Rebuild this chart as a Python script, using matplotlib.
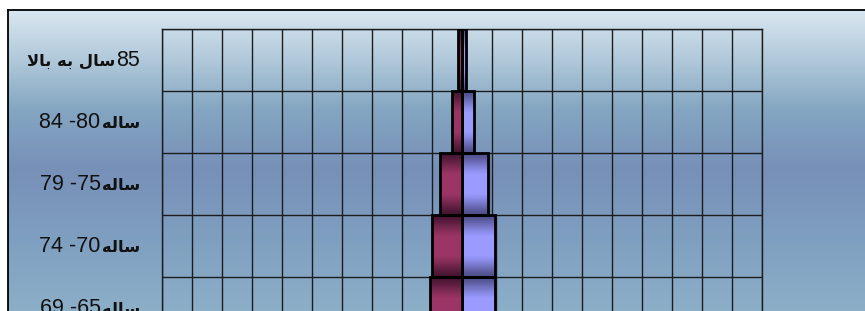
import matplotlib
matplotlib.use('Agg')
import matplotlib.pyplot as plt
import matplotlib.transforms as mtransforms
import numpy as np
from matplotlib.colors import to_rgb

# age groups, top to bottom (only the top of the pyramid is in view)
# arabic parts are stored as presentation forms in visual order, matplotlib does no shaping
SAL = '\ufeea\ufedf\ufe8e\ufeb3'   # ساله
age_num = ['85', '84 -80', '79 -75', '74 -70', '69 -65']
age_word = ['\ufefb\ufe8e\ufe91 \ufeea\ufe91 \ufedd\ufe8e\ufeb3', SAL, SAL, SAL, SAL]  # سال به بالا
num_right = [True, False, False, False, False]   # where the number sits relative to the word

# share of population (%)
left_vals = [0.12, 0.35, 0.72, 1.00, 1.07]
right_vals = [0.12, 0.40, 0.88, 1.11, 1.11]

W, H = 865, 311
fig = plt.figure(figsize=(W / 100, H / 100), dpi=100)
fig.patch.set_facecolor('white')

# chart area background (gradient), runs off the right and bottom edge
bg = fig.add_axes([8 / W, -0.2, 1.0, (H - 10) / H + 0.2])
bg_top, bg_bot = 10, H + 0.2 * H
stops_y = [10, 60, 110, 170, 240, 320]
stops_c = ['#dae7f1', '#b1c9da', '#84a6c2', '#7790b8', '#7f9fc0', '#8eb1c9']
ys = np.linspace(bg_top, bg_bot, 400)
cols = np.array([to_rgb(c) for c in stops_c])
grad = np.stack([np.interp(ys, stops_y, cols[:, k]) for k in range(3)], axis=1)
bg.imshow(grad[:, None, :], aspect='auto', extent=(0, 1, bg_bot, bg_top))
bg.set_xlim(0, 1)
bg.set_ylim(bg_bot, bg_top)
bg.set_xticks([])
bg.set_yticks([])
for s in ['right', 'bottom']:
    bg.spines[s].set_visible(False)
for s in ['top', 'left']:
    bg.spines[s].set_linewidth(1.3)
    bg.spines[s].set_color('black')

n = len(age_num)
ax = fig.add_axes([162 / W, 1 - (29 + n * 62) / H, 600 / W, n * 62 / H])
ax.set_facecolor('none')

for x in range(-10, 11):
    ax.axvline(x, color='#1c1c1c', lw=1, zorder=1)
for y in np.arange(-0.5, n, 1):
    ax.axhline(y, color='#1c1c1c', lw=1, zorder=1)
for s in ax.spines.values():
    s.set_color('#1c1c1c')
    s.set_linewidth(1)
ax.set_xticks([])
ax.set_yticks([])


def shade(dark, light):
    t = np.linspace(0, 1, 60)
    f = np.clip(np.sin(np.pi * t) * 1.15, 0, 1) ** 1.3
    d, l = np.array(to_rgb(dark)), np.array(to_rgb(light))
    return (d[None, :] * (1 - f[:, None]) + l[None, :] * f[:, None])[:, None, :]


pos = np.arange(n)
left_img = shade('#441430', '#9b3566')
right_img = shade('#4e4e88', '#9a9aff')
# faint drop shadow to the right of each bar
ax.barh(pos + 0.03, right_vals, left=0.08, height=1.0, color='#555566', alpha=0.35, lw=0, zorder=1.5)
for i in range(n):
    ax.imshow(left_img, aspect='auto', extent=(-left_vals[i], 0, pos[i] + 0.5, pos[i] - 0.5), zorder=2)
    ax.imshow(right_img, aspect='auto', extent=(0, right_vals[i], pos[i] + 0.5, pos[i] - 0.5), zorder=2)
ax.barh(pos, [-v for v in left_vals], height=1.0, fill=False, edgecolor='black', lw=2, zorder=3)
ax.barh(pos, right_vals, height=1.0, fill=False, edgecolor='black', lw=2, zorder=3)
ax.set_xlim(-10, 10)
ax.set_ylim(n - 0.5, -0.5)

# row labels: number in regular weight, arabic word in bold
num_style = dict(fontsize=15.5, family='Liberation Sans', color='#111111')
word_style = dict(fontsize=11.8, fontweight='bold', family='DejaVu Sans', color='#111111')
trans = mtransforms.blended_transform_factory(ax.transAxes, ax.transData)
firsts = []
for i in range(n):
    txt, st = (age_num[i], num_style) if num_right[i] else (age_word[i], word_style)
    t = ax.text(-0.037, pos[i] + 0.09, txt, transform=trans, ha='right', va='baseline',
                clip_on=False, **st)
    firsts.append(t)
fig.canvas.draw()
for i in range(n):
    txt, st = (age_word[i], word_style) if num_right[i] else (age_num[i], num_style)
    w = firsts[i].get_window_extent().width
    tr = mtransforms.offset_copy(trans, fig=fig, x=-w - 1, units='dots')
    ax.text(-0.037, pos[i] + 0.09, txt, transform=tr, ha='right', va='baseline',
            clip_on=False, **st)

fig.savefig('out.png', dpi=100)
